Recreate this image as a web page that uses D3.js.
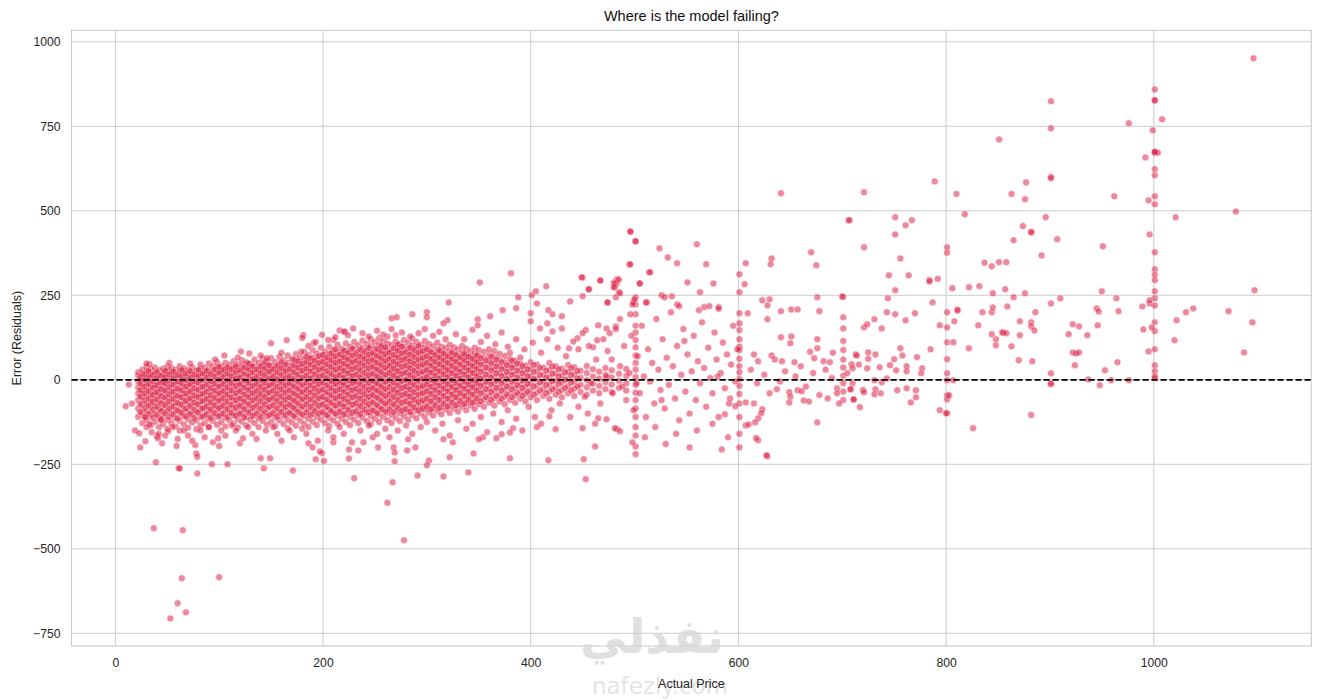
<!DOCTYPE html>
<html><head><meta charset="utf-8">
<script src="https://cdn.jsdelivr.net/npm/d3@7"></script>
<style>
body{margin:0;background:#fff;}
svg{display:block;font-family:"Liberation Sans",Arial,sans-serif;}
</style></head><body>
<svg id="chart" width="1320" height="699"></svg>
<script>
// ---------- data ----------
const title = "Where is the model failing?";
const xLabel = "Actual Price";
const yLabel = "Error (Residuals)";
const xTicks = [0, 200, 400, 600, 800, 1000];
const yTicks = [-750, -500, -250, 0, 250, 500, 750, 1000];
const xDomain = [-42.2, 1151.7];
const yDomain = [-787.6, 1034];

// dense cloud, by price column: [price, [residuals...]]
const denseColumns = [
[22,[-110,-85,-60,-40,-22,-5,12,22]],[26,[-128,-98,-74,-52,-33,-14,4,18,30]],[30,[-118,-92,-70,-47,-28,-10,8,24,38]],
[34,[-135,-104,-81,-62,-41,-19,0,15,31]],[38,[-125,-99,-77,-55,-36,-16,3,21,36]],[42,[-140,-112,-88,-66,-45,-27,-7,11,28]],
[46,[-131,-106,-84,-61,-39,-20,-2,17,33]],[50,[-145,-118,-93,-70,-50,-30,-11,7,24,38]],[54,[-128,-101,-79,-57,-36,-15,5,22,35]],
[58,[-138,-114,-90,-67,-46,-26,-6,13,30]],[62,[-150,-121,-96,-73,-52,-31,-12,8,26,40]],[66,[-132,-108,-85,-62,-40,-19,1,19,34]],
[70,[-142,-117,-92,-69,-48,-27,-8,12,29]],[74,[-126,-103,-80,-58,-37,-16,4,21,37]],[78,[-146,-120,-95,-72,-51,-30,-10,9,27]],
[82,[-135,-110,-87,-64,-43,-22,-1,17,33,45]],[86,[-128,-104,-82,-60,-39,-18,2,20,36]],[90,[-140,-115,-91,-68,-47,-26,-6,13,30,48]],
[94,[-122,-99,-77,-55,-34,-13,6,24,40]],[98,[-133,-109,-86,-63,-42,-21,-1,18,35,52]],[102,[-125,-101,-79,-57,-36,-15,5,23,40]],
[106,[-138,-113,-89,-66,-45,-24,-4,15,33,50]],[110,[-120,-97,-75,-53,-32,-11,9,27,44]],[114,[-130,-106,-84,-61,-40,-19,1,20,37,55]],
[118,[-142,-117,-93,-70,-49,-28,-8,11,29,46]],[122,[-124,-100,-78,-56,-35,-14,6,25,42,58]],[126,[-135,-110,-87,-64,-43,-22,-2,17,35,52]],
[130,[-118,-95,-73,-51,-30,-9,11,29,47]],[134,[-128,-104,-82,-59,-38,-17,3,22,40,60]],[138,[-140,-115,-91,-68,-47,-26,-6,14,32,50]],
[142,[-122,-99,-77,-55,-34,-13,7,26,44,62]],[146,[-133,-109,-86,-63,-42,-21,-1,19,37,55]],[150,[-125,-101,-79,-57,-36,-15,5,24,42,64]],
[154,[-137,-112,-89,-66,-45,-24,-3,16,35,53]],[158,[-120,-97,-75,-53,-32,-11,9,28,46,68]],[162,[-131,-107,-84,-61,-40,-19,1,21,39,58]],
[166,[-143,-118,-94,-71,-50,-29,-8,12,31,50,72]],[170,[-126,-102,-80,-58,-37,-16,4,24,43,62]],[174,[-136,-111,-88,-65,-44,-23,-2,18,37,56,76]],
[178,[-121,-98,-76,-54,-33,-12,8,28,47,66]],[182,[-131,-107,-84,-61,-40,-19,2,22,41,60,82]],[186,[-140,-115,-91,-68,-47,-26,-5,15,35,54,73]],
[190,[-124,-100,-78,-56,-35,-14,7,27,46,65,88]],[194,[-134,-110,-86,-63,-42,-21,0,20,40,59,78]],[198,[-118,-95,-73,-51,-30,-9,12,32,51,70,95]],
[202,[-128,-104,-82,-59,-38,-17,4,24,44,63,83]],[206,[-137,-112,-88,-65,-44,-23,-2,19,39,58,77,98]],[210,[-120,-97,-75,-53,-32,-11,10,30,50,69,88]],
[214,[-130,-106,-83,-60,-39,-18,3,23,43,62,82,104]],[218,[-115,-92,-71,-49,-28,-7,14,34,54,73,92]],[222,[-125,-101,-79,-56,-35,-14,7,27,47,66,86,108]],
[226,[-134,-109,-86,-63,-42,-21,0,21,41,60,80,98]],[230,[-118,-95,-73,-51,-30,-9,12,32,52,71,91,112]],[234,[-128,-104,-81,-58,-37,-16,5,25,45,64,84,103]],
[238,[-112,-90,-69,-47,-26,-5,16,36,56,75,95,116]],[242,[-122,-98,-76,-54,-33,-12,9,29,49,68,88,107]],[246,[-131,-107,-84,-61,-40,-19,2,22,42,62,81,100,120]],
[250,[-115,-92,-71,-49,-28,-7,14,34,54,74,93,112]],[254,[-125,-101,-79,-56,-35,-14,7,27,47,67,86,105,124]],[258,[-110,-88,-67,-45,-24,-3,18,38,58,77,97,116]],
[262,[-120,-97,-75,-53,-32,-11,10,30,50,70,89,108,128]],[266,[-128,-104,-81,-58,-37,-16,5,25,45,65,84,103]],[270,[-113,-91,-70,-48,-27,-6,15,35,55,75,94,113,132]],
[274,[-122,-99,-77,-55,-34,-13,8,28,48,68,87,106]],[278,[-108,-86,-65,-43,-22,-1,20,40,60,79,98,118]],[282,[-118,-95,-73,-51,-30,-9,12,32,52,72,91,110]],
[286,[-104,-82,-61,-40,-19,2,23,43,63,82,101,122]],[290,[-114,-91,-70,-48,-27,-6,15,35,55,75,94,112]],[294,[-100,-79,-58,-37,-16,5,26,46,65,84,104]],
[298,[-110,-88,-67,-45,-24,-3,18,38,58,77,96,115]],[302,[-96,-75,-54,-33,-12,9,29,49,68,87,106]],[306,[-106,-84,-63,-41,-20,1,22,42,61,80,100]],
[310,[-92,-71,-50,-29,-8,13,33,52,71,90,110]],[314,[-102,-80,-59,-38,-17,4,25,45,64,83,98]],[318,[-88,-67,-46,-25,-4,17,37,56,75,94]],
[322,[-98,-76,-55,-34,-13,8,28,48,67,86,104]],[326,[-84,-63,-42,-21,0,21,41,60,79,96]],[330,[-94,-72,-51,-30,-9,12,32,52,71,90]],
[334,[-80,-59,-38,-17,4,25,45,64,82,100]],[338,[-90,-68,-47,-26,-5,16,36,56,74,92]],[342,[-76,-55,-34,-13,8,29,48,67,85]],
[346,[-86,-64,-43,-22,-1,20,40,59,78,95]],[350,[-72,-51,-30,-9,12,33,52,71,88]],[355,[-80,-58,-37,-16,5,26,46,65,83]],
[360,[-68,-47,-26,-5,16,36,56,74,90]],[365,[-76,-54,-33,-12,9,30,49,68,85]],[370,[-64,-43,-22,-1,20,40,59,77]],
[375,[-72,-50,-29,-8,13,34,53,71]],[380,[-60,-39,-18,3,24,44,62,80]],[385,[-68,-46,-25,-4,17,38,57]],
[390,[-56,-35,-14,7,28,48,66]],[395,[-64,-42,-21,0,21,42]],[400,[-52,-31,-10,11,32,52]],
[406,[-60,-38,-17,4,25,45]],[412,[-48,-27,-6,15,36]],[418,[-56,-34,-13,8,29,50]],[424,[-44,-23,-2,19,40]],
[430,[-52,-30,-9,12,33]],[436,[-40,-19,2,23,44]],[442,[-48,-26,-5,16,37]],[448,[-36,-15,6,27]],
[454,[-44,-22,-1,20,41]],[460,[-32,-11,10,31]],[466,[-40,-18,3,24]],[472,[-28,-7,14,35]],
[478,[-36,-14,7,28]],[485,[-24,-3,18]],[492,[-32,-10,11,32]]
];

// inner, denser part of the cloud (second layer): [price, [residuals...]]
const coreColumns = [
[24,[-96,-72,-49,-30,-11,8]],[28,[-108,-84,-61,-40,-20,0,16]],[32,[-100,-76,-55,-33,-12,10,25]],[36,[-112,-89,-66,-45,-24,-4,14]],
[40,[-104,-80,-58,-37,-16,6,22]],[44,[-116,-93,-70,-49,-28,-8,12]],[48,[-99,-75,-53,-32,-11,9,26]],[52,[-110,-86,-64,-43,-22,-2,16]],
[56,[-102,-78,-56,-35,-14,6,24]],[60,[-114,-90,-68,-47,-26,-5,14]],[64,[-98,-74,-52,-31,-10,10,28]],[68,[-108,-85,-62,-41,-20,0,18]],
[72,[-101,-77,-55,-34,-13,7,25]],[76,[-113,-89,-67,-46,-25,-4,15]],[80,[-97,-73,-51,-30,-9,11,29]],[84,[-109,-85,-63,-42,-21,-1,18]],
[88,[-102,-78,-56,-35,-14,7,26]],[92,[-112,-88,-66,-45,-24,-3,17]],[96,[-99,-75,-53,-32,-11,10,30]],[100,[-108,-84,-62,-41,-20,1,21,38]],
[104,[-100,-76,-54,-33,-12,9,29]],[108,[-110,-86,-64,-43,-22,-1,19,36]],[112,[-98,-74,-52,-31,-10,11,31]],[116,[-106,-82,-60,-39,-18,3,23,40]],
[120,[-101,-77,-55,-34,-13,8,28]],[124,[-111,-87,-65,-44,-23,-2,18,36]],[128,[-97,-73,-51,-30,-9,12,32,48]],[132,[-107,-83,-61,-40,-19,2,22,40]],
[136,[-100,-76,-54,-33,-12,9,30]],[140,[-109,-85,-63,-42,-21,0,20,39]],[144,[-96,-72,-50,-29,-8,13,33,50]],[148,[-105,-81,-59,-38,-17,4,25,43]],
[152,[-99,-75,-53,-32,-11,10,31]],[156,[-108,-84,-62,-41,-20,1,22,41]],[160,[-95,-71,-49,-28,-7,14,34,52]],[164,[-104,-80,-58,-37,-16,5,26,45]],
[168,[-98,-74,-52,-31,-10,11,32]],[172,[-107,-83,-61,-40,-19,2,23,44,60]],[176,[-94,-70,-48,-27,-6,15,36,55]],[180,[-103,-79,-57,-36,-15,6,27,47]],
[184,[-97,-73,-51,-30,-9,12,33,52,68]],[188,[-105,-81,-59,-38,-17,4,25,45,63]],[192,[-93,-69,-47,-26,-5,16,37,56]],[196,[-101,-77,-55,-34,-13,8,29,49,70]],
[200,[-96,-72,-50,-29,-8,13,34,54,74]],[204,[-104,-80,-58,-37,-16,5,26,46,66]],[208,[-92,-68,-46,-25,-4,17,38,58,78]],[212,[-100,-76,-54,-33,-12,9,30,50,70,90]],
[216,[-95,-71,-49,-28,-7,14,35,55,75]],[220,[-103,-79,-57,-36,-15,6,27,47,67,86]],[224,[-90,-66,-44,-23,-2,19,40,60,80]],[228,[-98,-74,-52,-31,-10,11,32,52,72,92]],
[232,[-93,-69,-47,-26,-5,16,37,57,77]],[236,[-101,-77,-55,-34,-13,8,29,49,69,89]],[240,[-88,-64,-42,-21,0,21,42,62,82]],[244,[-96,-72,-50,-29,-8,13,34,54,74,94]],
[248,[-91,-67,-45,-24,-3,18,39,59,79]],[252,[-99,-75,-53,-32,-11,10,31,51,71,91]],[256,[-86,-62,-40,-19,2,23,44,64,84,100]],[260,[-94,-70,-48,-27,-6,15,36,56,76,96]],
[264,[-89,-65,-43,-22,-1,20,41,61,81]],[268,[-97,-73,-51,-30,-9,12,33,53,73,93]],[272,[-84,-60,-38,-17,4,25,46,66,86,104]],[276,[-92,-68,-46,-25,-4,17,38,58,78,98]],
[280,[-87,-63,-41,-20,1,22,43,63,83]],[284,[-95,-71,-49,-28,-7,14,35,55,75,95]],[288,[-82,-58,-36,-15,6,27,48,68,88]],[292,[-90,-66,-44,-23,-2,19,40,60,80,100]],
[296,[-85,-61,-39,-18,3,24,45,65,85]],[300,[-80,-56,-34,-13,8,29,50,70,90]],[304,[-88,-64,-42,-21,0,21,42,62,82]],[308,[-76,-52,-30,-9,12,33,54,74]],
[312,[-84,-60,-38,-17,4,25,46,66,86]],[316,[-72,-48,-26,-5,16,37,58,78]],[320,[-80,-56,-34,-13,8,29,50,70]],[324,[-68,-44,-22,-1,20,41,62,80]],
[328,[-76,-52,-30,-9,12,33,54,74]],[332,[-64,-40,-18,3,24,45,66]],[336,[-72,-48,-26,-5,16,37,58,76]],[340,[-60,-36,-14,7,28,49,68]],
[344,[-68,-44,-22,-1,20,41,62]],[348,[-56,-32,-10,11,32,53,72]],[352,[-64,-40,-18,3,24,45,64]],[357,[-52,-28,-6,15,36,57]],
[362,[-60,-36,-14,7,28,49,68]],[367,[-48,-24,-2,19,40,60]],[372,[-56,-32,-10,11,32,52]],[377,[-44,-20,2,23,44]],
[382,[-52,-28,-6,15,36,56]],[387,[-40,-16,6,27,48]],[392,[-48,-24,-2,19,40]],[397,[-36,-12,10,31]],[403,[-44,-20,2,23,44]],
[409,[-32,-8,14,35]],[415,[-40,-16,6,27]],[421,[-28,-4,18,39]],[427,[-36,-12,10,31]],[433,[-24,0,22]],[439,[-32,-8,14,35]],[445,[-20,4,26]]
];

// vertical stacks at round prices: [price, [residuals...]]
const stackColumns = [
[501,[410,244,223,194,160,140,118,96,72,50,30,8,-15,-38,-60,-85,-110,-140,-165,-197,-220]],
[601,[312,259,197,167,147,120,98,88,62,40,22,2,-18,-42,-70,-110,-160,-200]],
[701,[246,185,152,115,88,60,36,12,-10,-35,-60]],
[801,[392,376,200,155,111,61,19,-1,-46,-58,-99]],
[901,[824,744,601,596,226,19,-13]],
[1001,[859,828,826,674,672,623,605,543,519,377,327,311,295,262,241,220,170,144,90,43,25,10,5]]
];

// individual scattered points: [price, residual]
const scatterPts = [
[10,-78],[13,-14],[16,-70],[19,-150],[23,-158],[24,-200],[29,-182],[29,-111],[33,-131],[39,-244],[40,-166],[41,-173],[42,-160],[45,-188],
[51,-152],[59,-196],[61,-262],[62,-262],[77,-193],[78,-218],[79,-228],[79,-277],[94,-185],[99,-173],[100,-196],[108,-250],[93,-250],
[120,-188],[123,-173],[140,-232],[149,-232],[143,-262],[171,-268],[37,-439],[65,-445],[64,-587],[100,-584],[60,-661],[68,-688],[53,-706],
[262,-364],[278,-475],[195,-180],[199,-217],[201,-240],[186,-188],[193,-235],[197,-212],[210,-185],[230,-291],[225,-233],[267,-303],[291,-283],
[316,-286],[340,-274],[380,-232],[345,-218],[322,-229],[302,-239],[300,-253],[269,-241],[417,-238],[451,-235],[453,-294],[462,-197],
[406,-140],[424,-146],[450,-143],[418,-108],[465,-114],[473,-117],[483,-146],[383,-143],[380,-156],[372,-161],[367,-173],[354,-170],[350,-176],
[325,-185],[316,-176],[282,-176],[289,-200],[281,-209],[268,-200],[269,-215],[253,-200],[248,-170],[234,-209],[225,-206],[239,-185],
[481,-143],[486,-152],[498,-185],
[150,108],[165,117],[181,132],[180,124],[199,133],[216,146],[220,143],[229,152],[105,72],[121,84],[33,46],[129,78],[146,64],[179,83],[191,108],[210,118],[221,142],
[381,315],[351,288],[321,229],[450,303],[467,294],[388,244],[401,250],[405,262],[415,277],[406,226],[373,206],[438,232],[456,268],[474,229],[483,285],
[300,200],[286,194],[300,185],[266,182],[271,185],[320,176],[316,167],[349,179],[349,161],[361,188],[400,197],[400,173],[417,206],[421,194],[430,188],
[416,167],[409,152],[421,143],[430,152],[465,161],[473,152],[482,158],[453,147],[450,138],[445,123],[441,113],[437,93],[464,117],[460,96],[476,138],
[496,438],[495,341],[449,303],[456,268],[450,247],[480,288],[483,297],[485,259],[481,274],[505,285],[514,318],[512,229],[499,230],[496,194],[386,212],
[186,100],[193,112],[205,118],[212,126],[224,132],[238,138],[244,128],[252,145],[258,134],[266,150],[276,140],[284,128],[292,138],[298,150],[306,130],
[312,142],[318,120],[328,135],[336,120],[344,148],[352,112],[358,130],[366,105],[372,140],[378,98],[386,120],[394,90],[402,110],[410,80],[416,120],
[426,95],[434,70],[446,90],[160,80],[140,72],[118,66],[96,60],[72,48],[52,50],[30,48],
[30,-140],[35,-155],[44,-120],[48,-165],[55,-140],[60,-175],[66,-150],[70,-165],[74,-180],[82,-150],[86,-170],[90,-140],[102,-150],[106,-165],
[112,-135],[116,-150],[128,-140],[132,-160],[136,-175],[145,-150],[152,-140],[156,-160],[160,-180],[168,-150],[172,-170],[180,-145],[184,-160],
[190,-200],[205,-150],[210,-170],[216,-140],[220,-160],[228,-185],[236,-150],[244,-135],[252,-160],[260,-145],[264,-170],[272,-150],[280,-135],
[286,-160],[294,-140],[300,-125],[308,-150],[315,-130],[322,-165],[330,-120],[338,-145],[344,-130],[352,-110],[358,-155],[364,-100],[372,-125],
[378,-90],[386,-115],[392,-150],[398,-80],[404,-110],[410,-130],[420,-90],[428,-70],[438,-110],[446,-80],[455,-100],[462,-130],
[470,120],[474,85],[478,60],[482,150],[486,40],[488,-20],[490,100],[492,-60],[495,20],[497,130],[499,-90],[503,70],[505,-40],[507,160],[509,10],
[511,-110],[513,90],[515,-5],[517,50],[519,-70],[521,180],[523,30],[525,-30],[527,120],[529,-85],[531,65],[533,-15],[535,200],[537,40],[539,-55],
[541,100],[543,-120],[545,15],[547,150],[549,-35],[551,75],[553,-100],[555,25],[557,130],[559,-60],[561,55],[563,-10],[565,170],[567,35],[569,-80],
[571,95],[573,5],[575,-40],[577,140],[579,60],[581,-110],[583,20],[585,110],[587,-25],[589,75],[591,-70],[593,45],[595,160],[597,-5],[599,90],
[560,-150],[540,-160],[520,-140],[575,-130],[590,-170],[510,-170],[530,-190],[553,-200],[580,10],[548,115],[526,-60],[502,-10],[486,180],[479,-40],
[473,10],[467,-70],[463,60],[458,-10],[456,100],[452,-50],
[641,552],[706,472],[496,439],[501,410],[524,389],[560,401],[532,362],[541,345],[569,342],[496,342],[515,318],[505,285],[551,288],[576,285],
[606,283],[607,345],[632,359],[631,342],[670,377],[675,339],[467,294],[481,285],[485,297],[480,274],[482,244],[486,256],[474,229],[500,238],
[498,223],[511,229],[526,250],[529,244],[536,247],[541,223],[543,218],[563,259],[562,206],[567,215],[572,218],[581,215],[581,210],[609,197],
[623,235],[630,238],[628,220],[628,179],[641,203],[651,208],[657,208],[676,244],[678,203],[700,246],[641,126],[651,128],[650,108],[676,120],
[676,93],[669,83],[673,64],[691,80],[615,75],[632,72],[619,55],[642,55],[654,52],[682,55],[688,52],[709,46],[713,75],
[607,-67],[615,-70],[623,-87],[622,-99],[619,-114],[607,-135],[610,-132],[616,-126],[619,-179],[628,-226],[584,-206],[676,-126],[649,-67],
[663,-61],[668,-64],[686,-55],[697,-70],[711,-58],[649,-37],[657,-31],[661,-34],[637,-28],[695,-25],[708,-28],[597,-78],[587,-102],[592,-55],
[612,30],[618,-10],[625,15],[630,-40],[635,60],[640,-5],[645,25],[650,-50],[655,10],[660,40],[665,-20],[672,20],[678,-45],[684,30],[690,5],
[695,-40],[705,20],[710,-10],[716,45],[720,-30],[617,-172],[627,-223],
[1096,951],[1008,771],[976,759],[999,738],[992,658],[851,711],[789,587],[877,584],[721,555],[810,550],[863,550],[876,534],[962,543],[995,531],
[1079,498],[1021,481],[707,472],[751,481],[761,457],[767,472],[751,430],[818,490],[896,481],[874,455],[882,435],[882,438],[865,413],[907,416],
[951,395],[996,430],[721,392],[756,359],[837,346],[844,336],[851,348],[858,348],[892,368],[745,309],[764,309],[784,295],[792,299],
[751,265],[784,291],[744,241],[743,200],[751,194],[770,197],[761,176],[787,229],[731,179],[721,155],[724,164],[738,152],[756,93],[785,90],
[714,72],[725,81],[732,75],[725,62],[758,72],[750,61],[746,43],[772,67],[710,34],[724,34],[736,37],[752,28],[762,40],[762,25],[777,34],[776,19],
[731,-1],[738,-7],[743,4],[708,-28],[721,-37],[732,-28],[731,-43],[737,-40],[753,-31],[762,-25],[771,-31],[771,-52],[711,-58],[717,-81],[766,-67],
[794,-90],[800,-99],[803,-46],[826,-143],[882,-104],[807,-1],[807,111],[822,93],[794,161],[808,173],[811,208],[811,205],[806,271],[822,274],
[832,277],[845,256],[857,268],[865,244],[876,256],[835,200],[844,200],[845,214],[859,217],[831,161],[871,173],[882,170],[882,158],[885,146],
[886,200],[910,241],[844,135],[848,120],[854,141],[855,139],[858,138],[848,102],[863,99],[871,132],[870,58],[883,55],[901,-11],
[922,164],[928,158],[918,135],[936,132],[946,161],[945,211],[947,202],[950,262],[964,241],[966,203],[922,81],[925,78],[928,81],[924,43],
[953,28],[965,52],[937,1],[948,-16],[959,-1],[976,-1],[989,217],[996,226],[996,235],[990,149],[998,155],[995,84],[1022,176],[1020,117],
[1031,200],[1038,211],[1072,203],[1097,265],[1095,170],[1087,81],[1004,672],[1001,675]
];

// ---------- layout ----------
const m = {left: 71.5, right: 1311.3, top: 30.3, bottom: 646};

const svg = d3.select("#chart");
const x = d3.scaleLinear().domain(xDomain).range([m.left, m.right]);
const y = d3.scaleLinear().domain(yDomain).range([m.bottom, m.top]);

const gridColor = "#cccccc";
const textColor = "#262626";
const fmt = d => (d < 0 ? "\u2212" + Math.abs(d) : String(d));

// grid
const grid = svg.append("g");
grid.selectAll("line.vx").data(xTicks).join("line")
  .attr("x1", d => x(d)).attr("x2", d => x(d))
  .attr("y1", m.top).attr("y2", m.bottom)
  .attr("stroke", gridColor).attr("stroke-width", 1);
grid.selectAll("line.hy").data(yTicks).join("line")
  .attr("x1", m.left).attr("x2", m.right)
  .attr("y1", d => y(d)).attr("y2", d => y(d))
  .attr("stroke", gridColor).attr("stroke-width", 1);

// frame
svg.append("rect").attr("x", m.left).attr("y", m.top)
  .attr("width", m.right - m.left).attr("height", m.bottom - m.top)
  .attr("fill", "none").attr("stroke", gridColor).attr("stroke-width", 1.1);

// axes (labels via d3 axes)
const xAxis = d3.axisBottom(x).tickValues(xTicks).tickFormat(fmt).tickSize(0).tickPadding(12);
const yAxis = d3.axisLeft(y).tickValues(yTicks).tickFormat(fmt).tickSize(0).tickPadding(11);
const gx = svg.append("g").attr("transform", `translate(0,${m.bottom})`).call(xAxis);
const gy = svg.append("g").attr("transform", `translate(${m.left},0)`).call(yAxis);
[gx, gy].forEach(g => {
  g.select(".domain").remove();
  g.selectAll("text").attr("fill", textColor).style("font-size", "12.2px")
    .style("font-family", '"Liberation Sans", Arial, sans-serif');
});

// watermark (behind the marks)
svg.append("text").attr("x", 652).attr("y", 653).attr("text-anchor", "middle")
  .attr("fill", "#d4d4d4").attr("opacity", 0.7)
  .style("font-family", '"DejaVu Sans", sans-serif').style("font-weight", "bold").style("font-size", "47px")
  .text("نفذلي");
svg.append("text").attr("x", 660).attr("y", 694).attr("text-anchor", "middle")
  .attr("fill", "#dcdcdc").attr("opacity", 0.75)
  .style("font-family", '"DejaVu Sans", sans-serif').style("font-size", "23px")
  .text("nafezly.com");

// flatten data
const points = [];
denseColumns.forEach(([px, ys]) => ys.forEach(v => points.push([px, v])));
coreColumns.forEach(([px, ys]) => ys.forEach(v => points.push([px, v])));
stackColumns.forEach(([px, ys]) => ys.forEach(v => points.push([px, v])));
scatterPts.forEach(p => points.push(p));

// clip
svg.append("clipPath").attr("id", "clip").append("rect")
  .attr("x", m.left).attr("y", m.top).attr("width", m.right - m.left).attr("height", m.bottom - m.top);

// points
svg.append("g").attr("clip-path", "url(#clip)")
  .selectAll("circle").data(points).join("circle")
  .attr("cx", d => x(d[0])).attr("cy", d => y(d[1]))
  .attr("r", 3.5)
  .attr("fill", "#DC143C")
  .attr("stroke", "#ffffff").attr("stroke-width", 0.6)
  .attr("opacity", 0.5);

// zero line
svg.append("line")
  .attr("x1", m.left).attr("x2", m.right)
  .attr("y1", y(0)).attr("y2", y(0))
  .attr("stroke", "#000").attr("stroke-width", 1.7)
  .attr("stroke-dasharray", "6.2,2.8");

// title & labels
svg.append("text").attr("x", (m.left + m.right) / 2).attr("y", 21)
  .attr("text-anchor", "middle").attr("fill", "#111").style("font-size", "14.5px").text(title);
svg.append("text").attr("x", (m.left + m.right) / 2).attr("y", 688)
  .attr("text-anchor", "middle").attr("fill", textColor).style("font-size", "12.5px").text(xLabel);
svg.append("text").attr("transform", `translate(21,${(m.top + m.bottom) / 2}) rotate(-90)`)
  .attr("text-anchor", "middle").attr("fill", textColor).style("font-size", "12.5px").text(yLabel);
</script>
</body></html>
